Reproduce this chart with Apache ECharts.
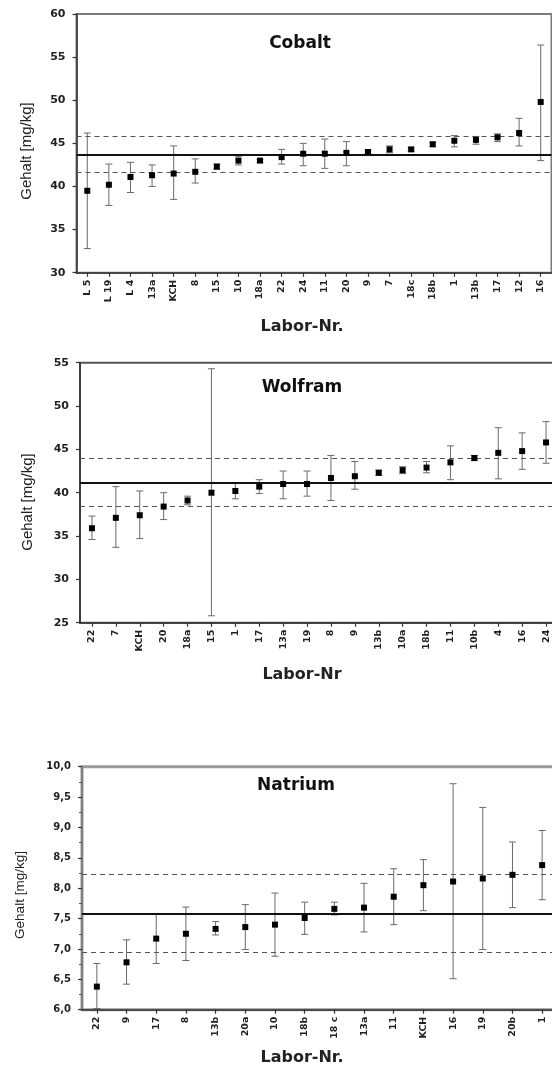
<!DOCTYPE html>
<html>
<head>
<meta charset="utf-8">
<script src="https://cdn.jsdelivr.net/npm/echarts@6/dist/echarts.min.js"></script>
<style>
html,body{margin:0;padding:0;background:#fff;overflow:hidden;}
#c{width:552px;height:1066px;}
</style>
</head>
<body>
<div id="c"></div>
<script>
// ---------- Cobalt ----------
const coLabels = ['L 5','L 19','L 4','13a','KCH','8','15','10','18a','22','24','11','20','9','7','18c','18b','1','13b','17','12','16'];
const coValues = [39.5,40.2,41.1,41.3,41.5,41.7,42.3,43.0,43.0,43.4,43.8,43.8,43.9,44.0,44.3,44.3,44.9,45.3,45.4,45.7,46.2,49.8];
const coLow    = [32.8,37.8,39.3,40.0,38.5,40.4,42.0,42.5,42.8,42.6,42.4,42.1,42.4,43.8,43.9,44.1,44.6,44.6,44.9,45.2,44.7,43.0];
const coHigh   = [46.2,42.6,42.8,42.5,44.7,43.2,42.6,43.5,43.1,44.3,45.0,45.5,45.2,44.2,44.7,44.5,45.1,45.9,45.8,46.1,47.9,56.4];
const coMean = 43.7, coLowerLimit = 41.6, coUpperLimit = 45.8;
const coTicks = [30, 60, 5];

// ---------- Wolfram ----------
const wLabels = ['22','7','KCH','20','18a','15','1','17','13a','19','8','9','13b','10a','18b','11','10b','4','16','24'];
const wValues = [35.9,37.1,37.4,38.4,39.1,40.0,40.2,40.7,41.0,41.0,41.7,41.9,42.3,42.6,42.9,43.5,44.0,44.6,44.8,45.8];
const wLow    = [34.6,33.7,34.7,36.9,38.6,25.8,39.3,39.9,39.3,39.6,39.1,40.4,42.0,42.2,42.3,41.5,43.7,41.6,42.7,43.4];
const wHigh   = [37.3,40.7,40.2,40.0,39.6,54.3,41.1,41.5,42.5,42.5,44.3,43.6,42.6,43.0,43.6,45.4,44.3,47.5,46.9,48.2];
const wMean = 41.2, wLowerLimit = 38.4, wUpperLimit = 44.0;
const wTicks = [25, 55, 5];

// ---------- Natrium ----------
const naLabels = ['22','9','17','8','13b','20a','10','18b','18 c','13a','11','KCH','16','19','20b','1'];
const naValues = [6.38,6.78,7.17,7.25,7.33,7.36,7.40,7.51,7.66,7.68,7.86,8.05,8.11,8.16,8.22,8.38];
const naLow    = [6.02,6.42,6.76,6.81,7.23,6.99,6.88,7.24,7.56,7.28,7.40,7.63,6.51,6.99,7.68,7.81];
const naHigh   = [6.76,7.15,7.57,7.69,7.45,7.73,7.92,7.77,7.77,8.08,8.32,8.47,9.72,9.33,8.76,8.95];
const naMean = 7.58, naLowerLimit = 6.94, naUpperLimit = 8.23;
const naTicks = [6.0, 10.0, 0.5];

const titles = ['Cobalt', 'Wolfram', 'Natrium'];
const xNames = ['Labor-Nr.', 'Labor-Nr', 'Labor-Nr.'];
const yName = 'Gehalt [mg/kg]';

const panels = [
  {labels: coLabels, values: coValues, low: coLow, high: coHigh, ref: [coMean, coLowerLimit, coUpperLimit], ticks: coTicks,
   grid: {left: 76.5, width: 475, top: 14, height: 258.7}, fmt: v => String(v), minor: false,
   topColor: '#7a7a7a', topW: 2, leftColor: '#333'},
  {labels: wLabels, values: wValues, low: wLow, high: wHigh, ref: [wMean, wLowerLimit, wUpperLimit], ticks: wTicks,
   grid: {left: 80, width: 478, top: 362.7, height: 260}, fmt: v => String(v), minor: false,
   topColor: '#555', topW: 2, leftColor: '#333'},
  {labels: naLabels, values: naValues, low: naLow, high: naHigh, ref: [naMean, naLowerLimit, naUpperLimit], ticks: naTicks,
   grid: {left: 82, width: 475, top: 766.7, height: 243}, fmt: v => v.toFixed(1).replace('.', ','), minor: true,
   topColor: '#999', topW: 3, leftColor: '#777'}
];

const FONT_B = '"DejaVu Sans", sans-serif';
const chart = echarts.init(document.getElementById('c'), null, {renderer: 'canvas'});

const grids = [], xAxes = [], yAxes = [], series = [];
panels.forEach((p, i) => {
  grids.push(Object.assign({show: true, borderColor: p.topColor, borderWidth: p.topW, backgroundColor: '#fff',
    containLabel: false, outerBoundsMode: 'none'}, p.grid));
  xAxes.push({
    type: 'category', gridIndex: i, data: p.labels, boundaryGap: true,
    axisLine: {show: true, lineStyle: {color: '#333', width: 1.5}},
    axisTick: {show: true, alignWithLabel: true, inside: false, length: 4, lineStyle: {color: '#333', width: 1.2}},
    axisLabel: {rotate: 90, interval: 0, margin: 7, color: '#222', fontFamily: FONT_B, fontWeight: 'bold', fontSize: 9.5},
    splitLine: {show: false}
  });
  yAxes.push({
    type: 'value', gridIndex: i, min: p.ticks[0], max: p.ticks[1], interval: p.ticks[2],
    axisLine: {show: true, lineStyle: {color: p.leftColor, width: 1.5}},
    axisTick: {show: true, inside: false, length: 4, lineStyle: {color: '#333', width: 1.2}},
    minorTick: {show: p.minor, splitNumber: 2, length: 3, lineStyle: {color: '#555'}},
    axisLabel: {margin: 11, color: '#222', fontFamily: FONT_B, fontWeight: 'bold', fontSize: p.minor ? 10 : 11, formatter: p.fmt},
    splitLine: {show: false}
  });
  const errData = p.labels.map((l, k) => [k, p.low[k], p.high[k]]);
  series.push({
    type: 'custom', xAxisIndex: i, yAxisIndex: i, silent: true, z: 2,
    data: errData,
    renderItem: function (params, api) {
      const x = api.value(0);
      const top = api.coord([x, api.value(2)]);
      const bot = api.coord([x, api.value(1)]);
      const cw = 3.5;
      const st = {stroke: '#6a6a6a', lineWidth: 1};
      return {type: 'group', children: [
        {type: 'line', shape: {x1: top[0], y1: top[1], x2: bot[0], y2: bot[1]}, style: st},
        {type: 'line', shape: {x1: top[0]-cw, y1: top[1], x2: top[0]+cw, y2: top[1]}, style: st},
        {type: 'line', shape: {x1: bot[0]-cw, y1: bot[1], x2: bot[0]+cw, y2: bot[1]}, style: st}
      ]};
    },
    encode: {x: 0, y: [1, 2]}
  });
  series.push({
    type: 'scatter', xAxisIndex: i, yAxisIndex: i, z: 5,
    data: p.values, symbol: 'rect', symbolSize: 6,
    itemStyle: {color: '#000', opacity: 1},
    markLine: {
      silent: true, symbol: 'none', label: {show: false}, animation: false,
      data: [
        {yAxis: p.ref[0], lineStyle: {type: 'solid', color: '#111', width: 2}},
        {yAxis: p.ref[1], lineStyle: {type: [5, 4], color: '#555', width: 1.2}},
        {yAxis: p.ref[2], lineStyle: {type: [5, 4], color: '#555', width: 1.2}}
      ]
    }
  });
});

const titlePos = [[300, 44], [302, 388], [296, 786]];
const xNamePos = [[302, 327], [302, 675], [302, 1058]];
const yNamePos = [[26.7, 151], [28.3, 502], [20.7, 895]];
const yNameSize = [15, 15, 13.5];
const graphics = [];
panels.forEach((p, i) => {
  graphics.push({type: 'text', x: titlePos[i][0], y: titlePos[i][1], z: 100,
    style: {text: titles[i], fill: '#111', font: 'bold 17px ' + FONT_B, align: 'center', verticalAlign: 'middle'}});
  graphics.push({type: 'text', x: xNamePos[i][0], y: xNamePos[i][1], z: 100,
    style: {text: xNames[i], fill: '#222', font: 'bold 16px ' + FONT_B, align: 'center', verticalAlign: 'middle'}});
  graphics.push({type: 'text', x: yNamePos[i][0], y: yNamePos[i][1], rotation: Math.PI / 2, z: 100,
    style: {text: yName, fill: '#222', font: yNameSize[i] + 'px "Liberation Sans", Arial, sans-serif', align: 'center', verticalAlign: 'middle'}});
});

chart.setOption({
  animation: false,
  backgroundColor: '#fff',
  grid: grids,
  xAxis: xAxes,
  yAxis: yAxes,
  series: series,
  graphic: graphics
});
</script>
</body>
</html>
